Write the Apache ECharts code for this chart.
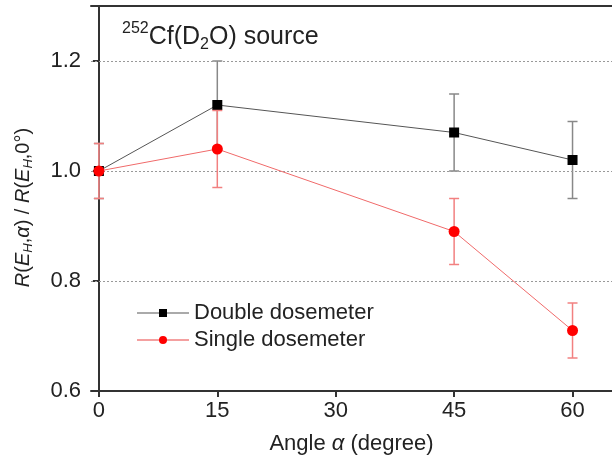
<!DOCTYPE html>
<html>
<head>
<meta charset="utf-8">
<script src="https://cdn.jsdelivr.net/npm/echarts@6/dist/echarts.min.js"></script>
<style>
  html, body { margin: 0; padding: 0; background: #fff; }
  #chart { width: 612px; height: 462px; }
</style>
</head>
<body>
<div id="chart"></div>
<script>
// angles in degree
var angles = [0, 15, 45, 60];
var xTicks = [0, 15, 30, 45, 60];
var yTicks = [0.6, 0.8, 1.0, 1.2];

var doubleVals = [1.00, 1.12, 1.07, 1.02];
var doubleLow = [0.95, 1.04, 1.00, 0.95];
var doubleHigh = [1.05, 1.20, 1.14, 1.09];

var singleVals = [1.00, 1.04, 0.89, 0.71];
var singleLow = [0.95, 0.97, 0.83, 0.66];
var singleHigh = [1.05, 1.11, 0.95, 0.76];

var font = "Liberation Sans";

function errData(lo, hi) {
  return angles.map(function (a, i) { return [a, lo[i], hi[i]]; });
}

function errRender(color) {
  return function (params, api) {
    var p1 = api.coord([api.value(0), api.value(1)]);
    var p2 = api.coord([api.value(0), api.value(2)]);
    var w = 5;
    var st = { stroke: color, lineWidth: 1.5 };
    return {
      type: "group",
      children: [
        { type: "line", shape: { x1: p1[0], y1: p1[1], x2: p2[0], y2: p2[1] }, style: st },
        { type: "line", shape: { x1: p1[0] - w, y1: p1[1], x2: p1[0] + w, y2: p1[1] }, style: st },
        { type: "line", shape: { x1: p2[0] - w, y1: p2[1], x2: p2[0] + w, y2: p2[1] }, style: st }
      ]
    };
  };
}

var chart = echarts.init(document.getElementById("chart"));
var axisCol = "#333";

chart.setOption({
  animation: false,
  grid: { left: 91, top: 6, right: 0, bottom: 71 },
  xAxis: [
    {
      type: "value",
      min: -1,
      max: 65,
      axisLine: { show: true, lineStyle: { color: axisCol, width: 2 } },
      axisTick: { show: true, length: 6, lineStyle: { color: axisCol, width: 2 }, customValues: xTicks },
      axisLabel: { color: "#222", fontSize: 22, fontFamily: font, margin: 9, customValues: xTicks },
      splitLine: { show: false },
      name: "Angle {i|α} (degree)",
      nameLocation: "middle",
      nameGap: 42,
      nameTextStyle: {
        color: "#222", fontSize: 22, fontFamily: font,
        rich: { i: { fontSize: 22, fontStyle: "italic", fontFamily: font, color: "#222" } }
      }
    },
    {
      type: "value",
      position: "top",
      min: -1,
      max: 65,
      axisLine: { show: true, lineStyle: { color: axisCol, width: 2 } },
      axisTick: { show: false },
      axisLabel: { show: false },
      splitLine: { show: false }
    }
  ],
  yAxis: {
    type: "value",
    min: 0.6,
    max: 1.3,
    axisLine: { show: true, lineStyle: { color: axisCol, width: 2 } },
    axisTick: { show: true, length: 6, lineStyle: { color: axisCol, width: 2 }, customValues: yTicks },
    axisLabel: {
      color: "#222", fontSize: 22, fontFamily: font, margin: 10,
      customValues: yTicks,
      formatter: function (v) { return v.toFixed(1); }
    },
    splitLine: { show: false },
    name: "{i|R}({i|E}{s|H},{i|α}) / {i|R}({i|E}{s|H},0°)",
    nameLocation: "middle",
    nameRotate: 90,
    nameGap: 56,
    nameTextStyle: {
      color: "#222", fontSize: 20, fontFamily: font,
      padding: [0, 18, 0, 0],
      rich: {
        i: { fontSize: 20, fontStyle: "italic", fontFamily: font, color: "#222" },
        s: { fontSize: 13, fontStyle: "italic", fontFamily: font, color: "#222", verticalAlign: "bottom", padding: [11, 0, 0, 0] }
      }
    }
  },
  legend: {
    orient: "vertical",
    left: 131,
    top: 297,
    itemWidth: 52,
    itemHeight: 10,
    itemGap: 5,
    textStyle: { color: "#222", fontSize: 22, fontFamily: font },
    data: [
      { name: "Double dosemeter", lineStyle: { color: "#aaa" } },
      { name: "Single dosemeter", lineStyle: { color: "#f4a0a0" } }
    ]
  },
  graphic: [
    {
      type: "text",
      left: 122,
      top: 21,
      style: {
        text: "{sup|252}{n|Cf(D}{sub|2}{n|O) source}",
        rich: {
          n: { fontSize: 25, fontFamily: font, fill: "#222", lineHeight: 32, verticalAlign: "middle" },
          sup: { fontSize: 16, fontFamily: font, fill: "#222", verticalAlign: "top", padding: [0, 0, 8, 0] },
          sub: { fontSize: 16, fontFamily: font, fill: "#222", verticalAlign: "bottom", padding: [12, 0, 0, 0] }
        }
      }
    }
  ],
  series: [
    {
      name: "grid-lines",
      type: "line",
      data: [],
      markLine: {
        silent: true,
        symbol: "none",
        label: { show: false },
        lineStyle: { color: "#999", type: [2, 2], width: 1 },
        data: [{ yAxis: 0.8 }, { yAxis: 1.0 }, { yAxis: 1.2 }]
      }
    },
    {
      type: "custom",
      renderItem: errRender("#888"),
      data: errData(doubleLow, doubleHigh),
      z: 3
    },
    {
      name: "Double dosemeter",
      type: "line",
      data: angles.map(function (a, i) { return [a, doubleVals[i]]; }),
      symbol: "rect",
      symbolSize: 10,
      itemStyle: { color: "#000" },
      lineStyle: { color: "#555", width: 1 },
      z: 4
    },
    {
      type: "custom",
      renderItem: errRender("#f28080"),
      data: errData(singleLow, singleHigh),
      z: 5
    },
    {
      name: "Single dosemeter",
      type: "line",
      data: angles.map(function (a, i) { return [a, singleVals[i]]; }),
      symbol: "circle",
      symbolSize: 11,
      itemStyle: { color: "#f00" },
      lineStyle: { color: "#f06a6a", width: 1 },
      z: 6
    }
  ]
});
</script>
</body>
</html>
